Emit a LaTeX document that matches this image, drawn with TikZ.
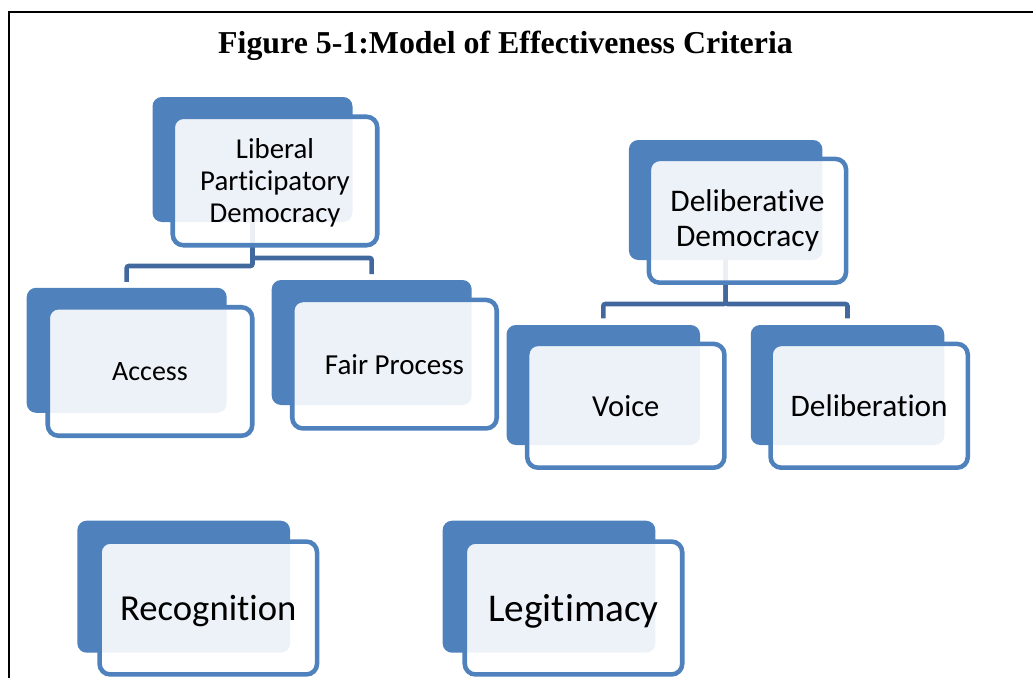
\documentclass[tikz,border=0pt]{standalone}
\usepackage{fontspec}
\setmainfont{Carlito}[Ligatures={NoCommon}]
\newfontfamily\titlefont{Liberation Serif}
\usetikzlibrary{backgrounds}
\definecolor{backblue}{RGB}{79,129,189}
\definecolor{lineblue}{RGB}{79,129,189}
\definecolor{connblue}{RGB}{65,105,158}
\tikzset{
  backbox/.style 2 args={rectangle, rounded corners=7pt, fill=backblue, draw=none,
    minimum width=#1*0.75pt, minimum height=#2*0.75pt, inner sep=0pt, outer sep=0pt},
  frontbox/.style 2 args={rectangle, rounded corners=8pt, fill=white, fill opacity=0.9,
    text opacity=1, draw=lineblue, draw opacity=1, line width=3.4pt,
    minimum width=#1*0.75pt, minimum height=#2*0.75pt, inner sep=0pt, outer sep=0pt,
    align=center, text=black},
  oneline/.style={text depth=0pt},
  conn/.style={draw=connblue, line width=3.4pt, rounded corners=1.5pt},
  framerule/.style={draw=black, line width=1.7pt},
  titletext/.style={font=\titlefont\bfseries\fontsize{23.9}{28}\selectfont, anchor=base, inner sep=0pt}
}
\begin{document}
\begin{tikzpicture}[x=0.75pt,y=-0.75pt]
\useasboundingbox (0,0) rectangle (1033,678);
% frame
\coordinate (fbl) at (8.8,678);
\coordinate (ftl) at (8.8,12.2);
\coordinate (ftr) at (1033,12.2);
\draw[framerule] (fbl) -- (ftl) -- (ftr);
% title
\node[titletext] (title) at (505.5,53) {Figure 5-1:Model of Effectiveness Criteria};
% Liberal group
\node[backbox={200}{125}] (libB) at (252.5,159.5) {};
\node[frontbox={204.5}{128.5}, font=\fontsize{21.6}{24}\selectfont] (libF) at (275,181) {\rule{0pt}{18pt}Liberal\\Participatory\\Democracy};
\node[backbox={200}{125}] (accB) at (126.7,350.3) {};
\node[frontbox={204.5}{128.5}, oneline, font=\fontsize{21}{25}\selectfont] (accF) at (150,371.5) {Access};
\node[backbox={200}{125}] (fairB) at (371.7,342.5) {};
\node[frontbox={204.5}{128.5}, oneline, font=\fontsize{21.75}{26}\selectfont] (fairF) at (394.5,364.2) {Fair Process};
% Deliberative group
\node[backbox={193.5}{120}] (delB) at (725.7,200) {};
\node[frontbox={197.2}{123.8}, font=\fontsize{23.6}{26.25}\selectfont] (delF) at (747.5,220.8) {Deliberative\\Democracy};
\node[backbox={193.5}{120}] (voiceB) at (603.3,385) {};
\node[frontbox={197.2}{123.8}, oneline, font=\fontsize{22.9}{27}\selectfont] (voiceF) at (625.8,405.8) {Voice};
\node[backbox={193.5}{120}] (delibB) at (847.5,385) {};
\node[frontbox={197.2}{123.8}, oneline, font=\fontsize{23.5}{28}\selectfont] (delibF) at (869.2,405.8) {Deliberation};
% bottom row
\node[backbox={212.7}{132}] (recB) at (183.7,586.7) {};
\node[frontbox={217.5}{132.9}, oneline, font=\fontsize{27.5}{33}\selectfont] (recF) at (208.3,608) {Recognition};
\node[backbox={212.7}{132}] (legB) at (549,586.7) {};
\node[frontbox={217.5}{132.9}, oneline, font=\fontsize{29.5}{35}\selectfont] (legF) at (573.5,608) {Legitimacy};
% connectors
\begin{scope}[on background layer]
\draw[conn] (libB.south) -- ++(0,44) -| ([yshift=4.5pt]accB.north);
\draw[conn] (libB.south) -- ++(0,36) -| ([yshift=4.5pt]fairB.north);
\draw[conn] (delB.south) -- ++(0,44) -| ([yshift=5pt]voiceB.north);
\draw[conn] (delB.south) -- ++(0,44) -| ([yshift=5pt]delibB.north);
\end{scope}
\end{tikzpicture}
\end{document}
